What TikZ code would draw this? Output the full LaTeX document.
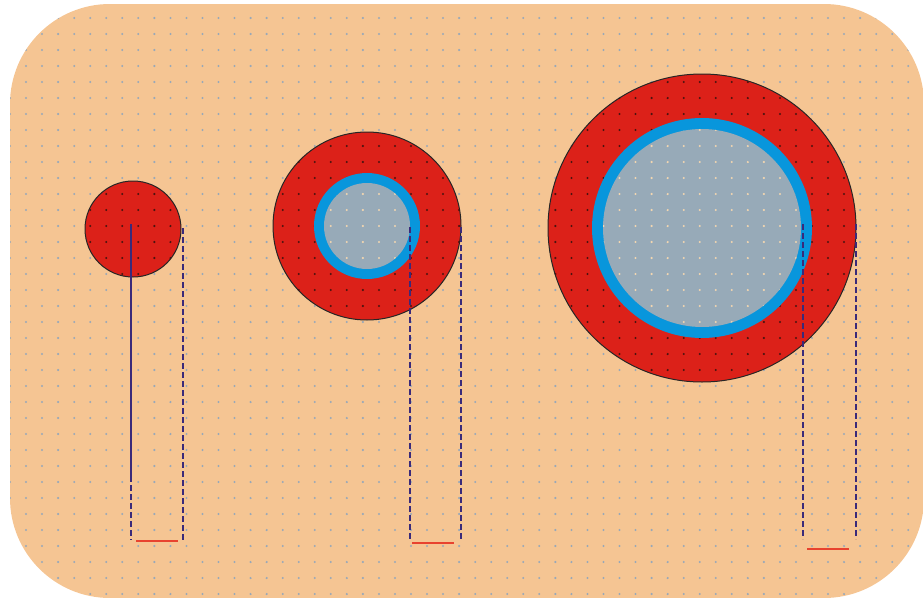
\documentclass[tikz,border=0pt]{standalone}
\definecolor{bgc}{HTML}{F5C593}
\definecolor{redc}{HTML}{DC2119}
\definecolor{bluec}{HTML}{0896DC}
\definecolor{greyc}{HTML}{97AAB8}
\definecolor{dotgrey}{HTML}{98A8B8}
\definecolor{dotdark}{HTML}{4A1410}
\definecolor{dotlight}{HTML}{F2D6B0}
\definecolor{dashc}{HTML}{3A2A7A}
\definecolor{rulec}{HTML}{E8432F}
\newcommand{\dotgrid}[5]{%
  \foreach \i in {#1,...,#2}{\foreach \j in {#3,...,#4}{%
    \fill[#5] (10+16.04*\i, 2+16*\j) circle (1.15);}}}
\tikzset{
  outerdisc/.style={circle, inner sep=0pt, fill=redc, draw=black!85, line width=1pt},
  ringdisc/.style={circle, inner sep=0pt, fill=bluec},
  innerdisc/.style={circle, inner sep=0pt, fill=greyc},
  guide/.style={draw=dashc, line width=1.3pt, dash pattern=on 6pt off 3pt},
  radiusline/.style={draw=dashc, line width=1.3pt},
  rule/.style={draw=rulec, line width=1.6pt}
}
\begin{document}
\begin{tikzpicture}[x=1pt,y=-1pt]
\useasboundingbox (0,0) rectangle (923,597);
% background
\fill[bgc, rounded corners=100pt] (10,4) rectangle (924,598);
\begin{scope}
  \clip[rounded corners=100pt] (10,4) rectangle (924,598);
  \dotgrid{0}{57}{0}{37}{dotgrey}
\end{scope}
% circles
\node[outerdisc, minimum size=96pt] (c1) at (133,229) {};
\node[outerdisc, minimum size=188pt] (c2) at (367,226) {};
\node[outerdisc, minimum size=308pt] (c3) at (702,228) {};
\begin{scope}\clip (133,229) circle (48);\dotgrid{4}{11}{11}{17}{dotdark}\end{scope}
\begin{scope}\clip (367,226) circle (94);\dotgrid{16}{29}{8}{20}{dotdark}\end{scope}
\begin{scope}\clip (702,228) circle (154);\dotgrid{33}{54}{4}{24}{dotdark}\end{scope}
\node[ringdisc, minimum size=106pt] (b2) at (367,226) {};
\node[innerdisc, minimum size=86pt] (g2) at (367,226) {};
\node[ringdisc, minimum size=220pt] (b3) at (702,228) {};
\node[innerdisc, minimum size=198pt] (g3) at (702,228) {};
\begin{scope}\clip (367,226) circle (43);\dotgrid{19}{25}{12}{17}{dotlight}\end{scope}
\begin{scope}\clip (702,228) circle (99);\dotgrid{36}{50}{7}{20}{dotlight}\end{scope}
% guide coordinates
\coordinate (a1) at (131,224); \coordinate (a1m) at (131,478); \coordinate (a1e) at (131,540);
\coordinate (b1) at (183,228); \coordinate (b1e) at (183,540);
\coordinate (r1s) at (136,541); \coordinate (r1e) at (178,541);
\coordinate (a2) at (410,227); \coordinate (a2e) at (410,540);
\coordinate (b2s) at (461,227); \coordinate (b2e) at (461,540);
\coordinate (r2s) at (412,543); \coordinate (r2e) at (454,543);
\coordinate (a3) at (803,224); \coordinate (a3e) at (803,539);
\coordinate (b3s) at (856,224); \coordinate (b3e) at (856,539);
\coordinate (r3s) at (807,549); \coordinate (r3e) at (849,549);
% guides
\draw[radiusline] (a1) -- (a1m);
\draw[guide] (a1) -- (a1e);
\draw[guide] (b1) -- (b1e);
\draw[rule] (r1s) -- (r1e);
\draw[guide] (a2) -- (a2e);
\draw[guide] (b2s) -- (b2e);
\draw[rule] (r2s) -- (r2e);
\draw[guide] (a3) -- (a3e);
\draw[guide] (b3s) -- (b3e);
\draw[rule] (r3s) -- (r3e);
\end{tikzpicture}
\end{document}
